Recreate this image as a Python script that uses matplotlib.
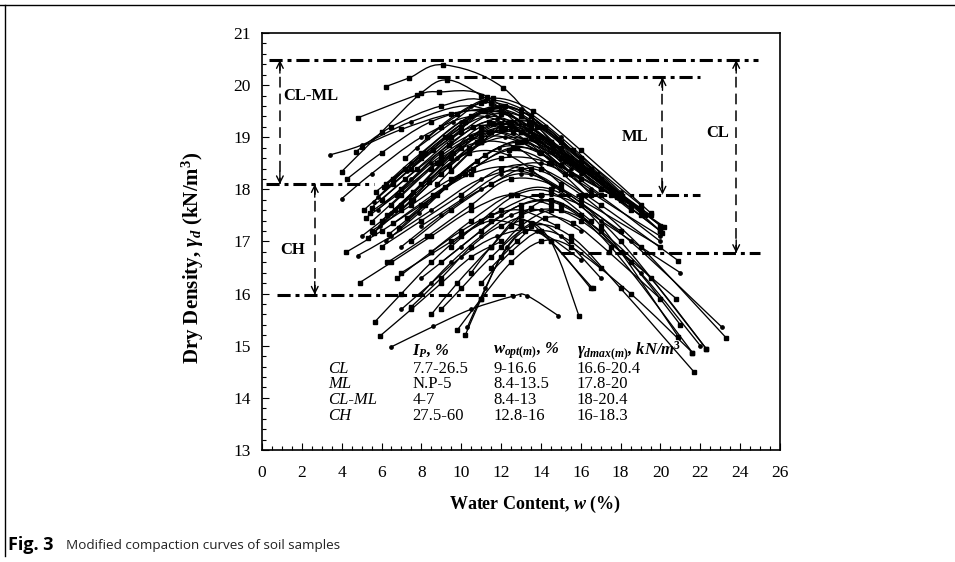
import matplotlib
matplotlib.use("Agg")
import matplotlib.pyplot as plt
from matplotlib.path import Path
from matplotlib.patches import PathPatch
from matplotlib.ticker import MultipleLocator
from matplotlib.lines import Line2D

plt.rcParams["font.family"] = ["Liberation Serif", "DejaVu Serif"]
plt.rcParams["mathtext.fontset"] = "custom"
plt.rcParams["mathtext.rm"] = "Liberation Serif:bold"
plt.rcParams["mathtext.it"] = "Liberation Serif:italic:bold"
plt.rcParams["mathtext.bf"] = "Liberation Serif:bold"

# ================================
# Compaction curves (w %, dry density kN/m3)
# ================================
curves = [
    ([6.2, 7.4, 9.1, 12.1, 15.3, 20.2], [19.97, 20.14, 20.39, 19.95, 18.62, 17.28]),
    ([4.0, 6.0, 8.0, 9.3, 11.0, 13.45, 16.5], [18.34, 19.1, 19.85, 20.1, 19.8, 19.12, 17.9]),
    ([4.8, 7.8, 8.9, 11.3, 14.6, 19.0], [19.37, 19.81, 19.87, 19.78, 18.74, 17.5]),
    ([3.4, 5.0, 7.5, 10.5, 13.0, 16.0], [18.66, 18.85, 19.3, 19.6, 19.1, 18.3]),
    ([4.7, 6.5, 9.0, 11.5, 15.0, 18.5], [18.72, 19.2, 19.6, 19.65, 18.47, 17.7]),
    ([5.0, 7.0, 9.5, 12.0, 14.5, 17.0], [18.82, 19.15, 19.45, 19.5, 18.9, 18.2]),
    ([4.27, 6.0, 8.5, 11.0, 13.5], [18.2, 18.7, 19.3, 19.5, 19.0]),
    ([4.0, 5.5, 8.0, 10.5, 12.5, 15.5], [17.82, 18.3, 19.0, 19.4, 19.2, 18.4]),
    ([5.5, 7.0, 9.0, 11.0, 13.0, 16.0], [17.38, 17.9, 18.6, 19.0, 18.9, 18.2]),
    ([5.3, 7.5, 9.5, 11.5, 14.0, 17.0], [17.07, 17.8, 18.6, 19.1, 18.7, 17.9]),
    ([5.6, 7.0, 9.0, 11.0, 13.0, 15.5], [17.17, 17.7, 18.5, 19.2, 19.1, 18.5]),
    ([5.8, 7.5, 9.5, 11.8, 14.0, 16.5, 19.5], [17.6, 18.2, 18.9, 19.35, 19.0, 18.3, 17.5]),
    ([6.0, 7.8, 10.0, 12.0, 14.5, 18.0], [17.8, 18.4, 19.1, 19.45, 18.9, 17.9]),
    ([5.7, 7.2, 9.2, 11.2, 13.5, 16.0, 20.0], [17.95, 18.4, 19.0, 19.5, 19.2, 18.4, 17.2]),
    ([6.3, 8.0, 10.0, 12.0, 14.0, 17.0], [17.5, 18.1, 18.8, 19.25, 19.0, 18.0]),
    ([5.9, 7.5, 9.8, 12.2, 14.8, 18.5], [17.3, 17.9, 18.6, 19.0, 18.7, 17.7]),
    ([6.5, 8.5, 10.5, 12.5, 15.0, 20.0], [17.7, 18.4, 19.0, 19.3, 18.8, 17.3]),
    ([5.4, 7.0, 9.0, 11.0, 13.2, 15.5], [17.55, 18.0, 18.7, 19.1, 18.95, 18.3]),
    ([6.1, 8.0, 10.0, 11.5, 13.5, 16.5], [18.05, 18.6, 19.2, 19.55, 19.3, 18.4]),
    ([6.8, 8.5, 10.5, 12.5, 14.5, 17.5], [17.9, 18.5, 19.0, 19.2, 18.9, 18.0]),
    ([5.2, 6.8, 8.8, 10.8, 12.8, 15.0], [17.45, 17.9, 18.5, 18.9, 18.8, 18.1]),
    ([6.4, 8.2, 10.2, 12.4, 14.4, 16.2], [17.15, 17.7, 18.3, 18.75, 18.5, 17.9]),
    ([7.0, 9.0, 11.0, 13.0, 15.5, 19.0], [17.6, 18.3, 18.9, 19.1, 18.5, 17.6]),
    ([5.6, 7.5, 10.0, 12.0, 14.0], [17.75, 18.5, 19.3, 19.6, 19.2]),
    ([6.2, 8.0, 10.5, 13.0, 15.5, 18.0], [18.1, 18.7, 19.4, 19.4, 18.6, 17.8]),
    ([7.5, 9.5, 11.5, 13.5, 16.0, 19.5], [18.4, 19.0, 19.55, 19.4, 18.5, 17.5]),
    ([7.2, 9.0, 11.0, 13.0, 15.0, 18.0], [18.6, 19.2, 19.65, 19.5, 18.9, 17.9]),
    ([5.8, 7.3, 9.3, 11.3, 13.3, 15.8], [17.85, 18.35, 19.0, 19.4, 19.15, 18.45]),
    ([6.0, 7.6, 9.6, 11.6, 13.6, 16.2, 19.0], [17.4, 17.95, 18.7, 19.25, 19.05, 18.35, 17.6]),
    ([5.5, 7.2, 9.4, 11.4, 13.8, 17.0], [17.65, 18.2, 18.85, 19.3, 18.95, 18.0]),
    ([6.6, 8.2, 10.2, 12.2, 14.2, 16.8], [18.2, 18.7, 19.3, 19.6, 19.2, 18.3]),
    ([7.8, 9.6, 11.2, 13.0, 15.0, 18.0], [18.8, 19.3, 19.7, 19.55, 19.0, 17.95]),
    ([8.3, 9.8, 11.6, 13.6, 16.0, 19.5], [19.0, 19.45, 19.75, 19.5, 18.75, 17.55]),
    ([6.9, 8.8, 10.8, 12.8, 15.2, 18.5], [17.25, 17.9, 18.55, 18.9, 18.55, 17.6]),
    ([5.1, 6.6, 8.6, 10.6, 12.6, 15.2], [17.6, 18.1, 18.75, 19.2, 19.1, 18.3]),
    ([6.2, 7.9, 9.9, 11.9, 13.9, 16.5, 20.0], [17.0, 17.55, 18.25, 18.8, 18.7, 17.95, 17.1]),
    ([7.3, 9.2, 11.2, 13.2, 15.4, 17.6], [17.45, 18.05, 18.65, 18.95, 18.6, 17.95]),
    ([8.8, 10.4, 12.0, 13.8, 16.0, 19.2], [18.1, 18.7, 19.15, 19.2, 18.6, 17.5]),
    ([9.5, 11.0, 12.5, 14.2, 16.5, 20.0], [18.35, 18.9, 19.3, 19.2, 18.4, 17.2]),
    ([5.0, 6.5, 8.4, 10.4, 12.4, 14.6], [17.1, 17.55, 18.2, 18.7, 18.65, 18.05]),
    ([6.7, 8.4, 10.4, 12.2, 14.6, 17.8], [17.6, 18.15, 18.8, 19.15, 18.8, 17.85]),
    ([7.6, 9.4, 11.4, 13.4, 15.6, 19.0], [17.8, 18.45, 19.1, 19.3, 18.75, 17.7]),
    ([4.2, 6.0, 8.0, 10.5, 13.0, 16.0, 20.0], [16.79, 17.2, 17.7, 18.3, 18.4, 17.8, 16.9]),
    ([4.8, 6.5, 8.5, 11.0, 13.5, 17.0, 21.0], [16.73, 17.1, 17.6, 18.2, 18.3, 17.4, 16.4]),
    ([4.9, 6.5, 8.5, 10.5, 12.5, 14.5], [16.21, 16.6, 17.1, 17.6, 17.9, 17.7]),
    ([6.0, 8.0, 10.0, 12.0, 14.0, 17.0, 20.9], [16.9, 17.4, 17.9, 18.4, 18.4, 17.7, 16.63]),
    ([6.3, 8.3, 10.5, 12.5, 15.0, 18.0, 22.3], [16.6, 17.1, 17.7, 18.2, 18.0, 17.0, 14.94]),
    ([7.0, 9.0, 11.0, 13.0, 15.0, 18.5, 23.1], [16.9, 17.5, 18.0, 18.3, 18.0, 17.0, 15.35]),
    ([7.5, 9.5, 11.5, 13.5, 16.0, 19.0, 23.3], [17.0, 17.6, 18.1, 18.4, 17.9, 16.9, 15.15]),
    ([5.5, 7.5, 9.5, 12.0, 14.5, 17.5, 20.1], [17.2, 17.7, 18.2, 18.6, 18.5, 17.9, 17.17]),
    ([6.6, 8.6, 10.6, 12.6, 15.0, 17.5, 20.1], [17.35, 17.9, 18.4, 18.8, 18.6, 18.0, 17.28]),
    ([8.0, 10.0, 12.0, 14.0, 16.5, 20.0], [17.3, 17.8, 18.3, 18.5, 18.0, 17.0]),
    ([7.0, 9.5, 12.0, 14.0, 16.0, 18.0], [16.4, 17.0, 17.6, 17.9, 17.7, 17.2]),
    ([8.5, 10.5, 12.5, 14.5, 17.0, 20.9], [16.8, 17.4, 17.9, 18.0, 17.3, 15.17]),
    ([9.0, 11.0, 13.0, 15.0, 17.5, 21.6], [16.6, 17.2, 17.7, 17.7, 16.9, 14.87]),
    ([8.0, 10.0, 12.0, 14.0, 16.0, 19.0, 22.0], [16.3, 16.9, 17.5, 17.8, 17.5, 16.4, 15.0]),
    ([9.5, 11.0, 12.8, 14.5, 16.5], [16.9, 17.4, 17.9, 17.95, 17.4]),
    ([11.5, 12.8, 14.2, 15.6, 17.4, 20.0], [16.5, 17.0, 17.45, 17.35, 16.8, 15.9]),
    ([12.5, 13.5, 14.5, 16.0, 18.5, 21.0], [17.3, 17.65, 17.8, 17.5, 16.6, 15.4]),
    ([6.5, 8.6, 10.5, 12.6, 13.3, 14.86], [14.98, 15.37, 15.7, 15.95, 15.96, 15.58]),
    ([5.67, 7.0, 8.5, 10.0, 11.5, 13.0], [15.46, 16.0, 16.6, 17.1, 17.4, 17.3]),
    ([5.9, 7.5, 9.0, 10.5, 12.0], [15.18, 15.7, 16.2, 16.7, 17.0]),
    ([10.2, 11.0, 12.0, 13.2, 14.5, 16.5], [15.2, 15.9, 16.7, 17.2, 17.0, 16.1]),
    ([10.3, 11.2, 12.3, 13.6, 15.0, 17.0], [15.35, 16.1, 16.9, 17.35, 17.1, 16.3]),
    ([8.5, 9.8, 11.5, 13.0, 14.5, 15.9], [15.6, 16.2, 16.9, 17.4, 17.0, 15.58]),
    ([9.0, 10.0, 11.5, 13.5, 15.5, 18.0, 21.7], [15.7, 16.1, 16.7, 17.3, 17.1, 16.1, 14.49]),
    ([7.5, 9.0, 10.5, 12.0, 13.5, 16.6], [15.75, 16.3, 16.9, 17.3, 17.35, 16.1]),
    ([8.0, 9.5, 11.0, 12.5, 14.0, 16.0], [16.0, 16.6, 17.1, 17.5, 17.6, 17.2]),
    ([6.8, 8.5, 10.0, 11.5, 13.0, 14.8], [16.3, 16.8, 17.2, 17.5, 17.6, 17.3]),
    ([9.8, 11.0, 12.5, 14.0, 15.5, 18.5, 21.6], [15.3, 15.9, 16.6, 17.0, 16.9, 16.0, 14.87]),
    ([11.0, 12.5, 14.0, 15.5, 17.0], [16.2, 16.8, 17.2, 17.0, 16.5]),
    ([7.0, 8.5, 10.0, 11.8, 13.8, 16.0], [15.7, 16.2, 16.7, 17.1, 17.2, 16.65]),
    ([12.0, 13.0, 14.5, 16.0, 18.0, 20.8], [16.9, 17.3, 17.6, 17.4, 16.8, 15.9]),
    ([10.5, 11.5, 13.0, 15.0, 17.0, 19.5, 22.3], [16.4, 16.9, 17.5, 17.6, 17.2, 16.3, 14.94]),
]

# ================================
# Range lines for each soil group
# ================================
range_levels = [20.48, 20.15, 18.1, 17.9, 16.78, 15.98]
range_starts = [0.35, 8.8, 0.2, 13.5, 15.0, 0.75]
range_ends = [24.9, 22.0, 5.6, 22.0, 25.0, 13.0]

arrow_x = [0.9, 2.65, 20.1, 23.8]
arrow_top = [20.48, 18.1, 20.15, 20.48]
arrow_bottom = [18.1, 15.98, 17.9, 16.78]

group_labels = ["CL-ML", "CH", "ML", "CL"]
group_label_x = [2.45, 1.55, 18.75, 22.85]
group_label_y = [19.8, 16.84, 19.0, 19.08]

# ================================
# Summary table
# ================================
table_header = [r"$I_P$, %", r"$w_{opt(m)}$, %", r"$\gamma_{dmax(m)}$, kN/m$^3$"]
table_rows = ["CL", "ML", "CL-ML", "CH"]
table_ip = ["7.7-26.5", "N.P-5", "4-7", "27.5-60"]
table_wopt = ["9-16.6", "8.4-13.5", "8.4-13", "12.8-16"]
table_gmax = ["16.6-20.4", "17.8-20", "18-20.4", "16-18.3"]
table_col_x = [3.3, 7.55, 11.6, 15.8]
table_row_y = [14.56, 14.26, 13.95, 13.66]
table_header_y = 14.9


def smooth_path(xs, ys):
    # Catmull-Rom through the measured points, handed to matplotlib as Bezier segments
    pts = list(zip(xs, ys))
    n = len(pts)
    verts = [pts[0]]
    codes = [Path.MOVETO]
    for i in range(n - 1):
        p0 = pts[i - 1] if i > 0 else pts[i]
        p1 = pts[i]
        p2 = pts[i + 1]
        p3 = pts[i + 2] if i + 2 < n else pts[i + 1]
        c1 = (p1[0] + (p2[0] - p0[0]) / 6, p1[1] + (p2[1] - p0[1]) / 6)
        c2 = (p2[0] - (p3[0] - p1[0]) / 6, p2[1] - (p3[1] - p1[1]) / 6)
        verts += [c1, c2, p2]
        codes += [Path.CURVE4] * 3
    return Path(verts, codes)


fig = plt.figure(figsize=(9.55, 5.62), dpi=100)
ax = fig.add_axes([0.2743, 0.1993, 0.8168 - 0.2743, 0.9413 - 0.1993])

for i, (w, g) in enumerate(curves):
    ax.add_patch(PathPatch(smooth_path(w, g), fill=False, lw=0.95, ec="black", zorder=3))
    mk = "o" if i % 4 == 3 else "s"
    ax.plot(w, g, mk, ms=2.8 if mk == "s" else 2.4, color="black", zorder=4)

dashdot = (0, (4.3, 1.6, 1.3, 1.6))
for lev, x0, x1 in zip(range_levels, range_starts, range_ends):
    ax.plot([x0, x1], [lev, lev], color="black", lw=2.2, linestyle=dashdot,
            dash_capstyle="butt", zorder=5)

for x, top, bot in zip(arrow_x, arrow_top, arrow_bottom):
    ax.plot([x, x], [top, bot], color="black", lw=1.1, linestyle=(0, (7, 4)), zorder=5)
    for end, start in ((top, top - 0.25), (bot, bot + 0.25)):
        ax.annotate("", xy=(x, end), xytext=(x, start),
                    arrowprops=dict(arrowstyle="->", lw=1.0, color="black",
                                    shrinkA=0, shrinkB=0, mutation_scale=12),
                    zorder=6)

for lab, x, y in zip(group_labels, group_label_x, group_label_y):
    ax.text(x, y, lab, fontsize=12, fontweight="bold", ha="center", va="center")

# table
for txt, x in zip(table_header, table_col_x[1:]):
    ax.text(x, table_header_y, txt, fontsize=12, fontweight="bold", fontstyle="italic",
            ha="left", va="center")
for r, name in enumerate(table_rows):
    y = table_row_y[r]
    ax.text(table_col_x[0], y, name, fontsize=12, fontstyle="italic", ha="left", va="center")
    ax.text(table_col_x[1], y, table_ip[r], fontsize=12, ha="left", va="center")
    ax.text(table_col_x[2], y, table_wopt[r], fontsize=12, ha="left", va="center")
    ax.text(table_col_x[3], y, table_gmax[r], fontsize=12, ha="left", va="center")

ax.set_xlim(0, 26)
ax.set_ylim(13, 21)
ax.xaxis.set_major_locator(MultipleLocator(2))
ax.xaxis.set_minor_locator(MultipleLocator(0.5))
ax.yaxis.set_major_locator(MultipleLocator(1))
ax.yaxis.set_minor_locator(MultipleLocator(0.2))
ax.tick_params(which="both", direction="in", labelsize=12.5, width=0.8)
ax.tick_params(which="major", length=5)
ax.tick_params(axis="x", which="major", pad=11)
ax.tick_params(axis="y", which="major", pad=8)
ax.tick_params(which="minor", length=3)
ax.tick_params(axis="y", which="both", left=True, right=False)
ax.tick_params(axis="x", which="both", bottom=True, top=False)
for s in ax.spines.values():
    s.set_linewidth(1.2)

ax.set_xlabel(r"Water Content, $w$ (%)", fontsize=13, fontweight="bold")
ax.set_ylabel(r"Dry Density, $\gamma_d$ (kN/m$^3$)", fontsize=15, fontweight="bold")
ax.xaxis.set_label_coords(0.527, -0.105)
ax.yaxis.set_label_coords(-0.108, 0.46)

# page frame and caption
fig.add_artist(Line2D([0, 1], [1 - 5 / 562, 1 - 5 / 562], color="black", lw=1.0))
fig.add_artist(Line2D([5 / 955, 5 / 955], [1 - 5 / 562, 6 / 562], color="black", lw=1.0))
fig.text(8 / 955, 1 - 545 / 562, "Fig. 3", fontsize=13, fontweight="bold",
         family=["Open Sans", "DejaVu Sans"], va="center")
fig.text(66 / 955, 1 - 545 / 562, "Modified compaction curves of soil samples", fontsize=9.7,
         family=["Open Sans", "DejaVu Sans"], va="center", color="#222222")

fig.savefig("out.png", dpi=100)
